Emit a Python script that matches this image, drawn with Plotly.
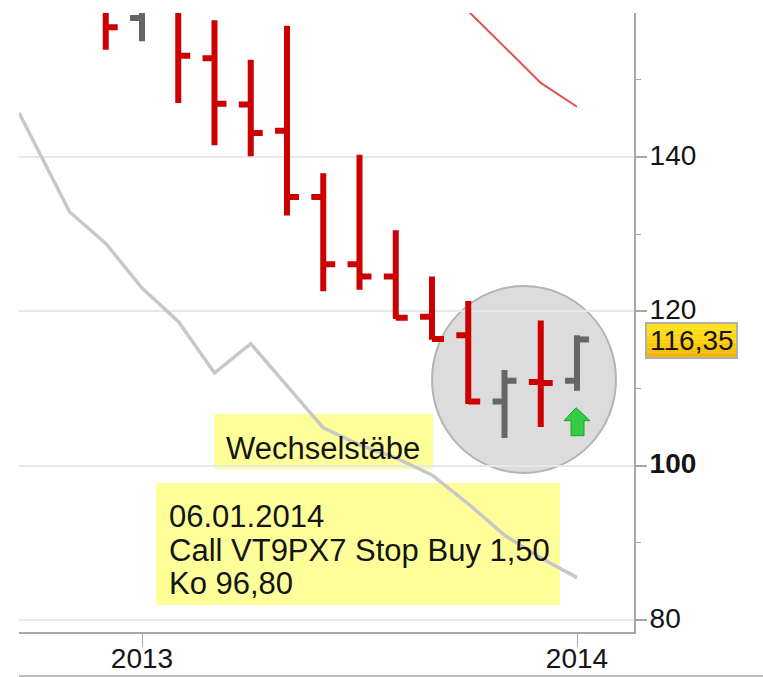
import plotly.graph_objects as go

# Months counted from January 2013
bar_months = [-1, 0, 1, 2, 3, 4, 5, 6, 7, 8, 9, 10, 11, 12]
opens  = [165.0, 158.0, 162.0, 152.8, 146.8, 143.4, 134.8, 126.1, 124.5, 119.3, 116.9, 108.3, 110.85, 111.0]
highs  = [168.0, 165.0, 165.0, 157.7, 152.6, 157.0, 137.9, 140.3, 130.5, 124.5, 121.35, 112.4, 118.8, 116.9]
lows   = [153.9, 155.0, 147.0, 141.5, 140.1, 132.4, 122.6, 122.8, 119.0, 116.3, 108.0, 103.6, 105.0, 109.7]
closes = [156.8, 161.0, 153.1, 146.9, 143.1, 134.8, 126.1, 124.5, 119.15, 116.4, 108.3, 111.0, 110.7, 116.35]

gray_months = [-3.39, -2.0, -1.0, 0, 1, 2, 3, 4, 5, 6, 7, 8, 9, 10, 11, 12]
gray_values = [145.7, 132.9, 128.8, 123.0, 118.7, 112.0, 115.8, 110.4, 104.9, 102.7, 101.0, 98.8, 95.05, 91.0, 88.05, 85.5]

red_months = [9, 10, 11, 12]
red_values = [158.9, 154.25, 149.6, 146.5]

y_ticks = [80, 100, 120, 140]
y_labels = ["80", "<b>100</b>", "120", "140"]
x_ticks = [0, 12]
x_labels = ["2013", "2014"]
last_price = "116,35"
note_1 = "Wechselstäbe"
note_2 = ["06.01.2014", "Call VT9PX7 Stop Buy 1,50", "Ko 96,80"]

W, H = 763, 677
L, R, T, B = 19, 634, 13, 632
px = lambda x: (x - L) / (R - L)
py = lambda y: 1 - (y - T) / (B - T)
FONT = "Liberation Sans"

fig = go.Figure()
fig.add_trace(go.Scatter(x=gray_months, y=gray_values, mode="lines", line=dict(color="#c8c8c8", width=3.5), hoverinfo="skip"))
fig.add_trace(go.Scatter(x=red_months, y=red_values, mode="lines", line=dict(color="#e05050", width=2), hoverinfo="skip"))
fig.add_trace(go.Ohlc(x=bar_months, open=opens, high=highs, low=lows, close=closes, tickwidth=0.33,
                      increasing=dict(line=dict(color="#666666", width=6)),
                      decreasing=dict(line=dict(color="#cc0000", width=6))))

def rect(x0, y0, x1, y1, fill, line=None, kind="rect", layer="below", w=1):
    fig.add_shape(type=kind, xref="paper", yref="paper", x0=px(x0), x1=px(x1), y0=py(y0), y1=py(y1),
                  fillcolor=fill, line=dict(color=line, width=w) if line else dict(width=0), layer=layer)

rect(214, 414, 433, 469, "#ffff99")
rect(156, 483, 560, 605, "#ffff99")
rect(432, 286, 616, 473, "#dcdcdc", "#b4b4b4", kind="circle", w=2)

# arrow
fig.add_shape(type="path", xref="x", yref="y", xsizemode="pixel", ysizemode="pixel", xanchor=12, yanchor=105.7,
              path="M -1 14 L -13 1 L -6 1 L -6 -14 L 7 -14 L 7 1 L 13 1 Z",
              fillcolor="#33cc44", line=dict(color="#22a033", width=1), layer="above")

# price label
stops = ["#ffe11a", "#ffdc14", "#ffd60f", "#ffcf0a", "#fcc705", "#f8be00", "#f4b400"]
top, bottom = 324, 357
for i, c in enumerate(stops):
    rect(647, top + (bottom - top) * i / len(stops), 736, top + (bottom - top) * (i + 1) / len(stops), c, layer="above")
rect(646, 323, 737, 358, "rgba(0,0,0,0)", "#b0b0b0", layer="above", w=2)

# outer bottom rule
rect(19, 675, 763, 677, "#bdbdbd", layer="above")

def text(x, y, s, size=31):
    fig.add_annotation(xref="paper", yref="paper", x=px(x), y=py(y), text=s, showarrow=False, xanchor="left", yanchor="middle",
                       align="left", xshift=-1, font=dict(family=FONT, size=size, color="#141414"))

text(225, 448, note_1)
for yy, s in zip([516, 550, 583], note_2):
    text(168, yy, s)
text(649, 340, last_price, 28)

fig.update_xaxes(range=[-3.393, 13.572], tickmode="array", tickvals=x_ticks, ticktext=x_labels, ticks="outside", ticklen=13, tickwidth=1,
                 tickcolor="#a8a8a8", showgrid=False, showline=True, linecolor="#a8a8a8", linewidth=2, automargin=False,
                 ticklabelstandoff=-13,
                 tickfont=dict(family=FONT, size=28, color="#141414"), rangeslider=dict(visible=False), zeroline=False)
fig.update_yaxes(side="right", range=[78.45, 158.65], tickmode="array", tickvals=y_ticks, ticktext=y_labels, ticks="outside", ticklen=11, tickwidth=2,
                 tickcolor="#a8a8a8", showgrid=True, gridcolor="#e8e8e8", gridwidth=2, showline=True, linecolor="#a8a8a8", linewidth=2, automargin=False,
                 ticklabelstandoff=-3, ticklabelshift=-2,
                 minor=dict(tickvals=[90, 110, 130, 150], ticks="outside", ticklen=5, tickcolor="#a8a8a8", tickwidth=1, showgrid=False),
                 tickfont=dict(family=FONT, size=28, color="#141414"), zeroline=False)
fig.update_layout(width=W, height=H, autosize=False, showlegend=False, paper_bgcolor="white", plot_bgcolor="white",
                  margin=dict(l=L, r=W - R, t=T, b=H - B))
fig.write_html("out.html", config=dict(displayModeBar=False), post_script="document.body.style.margin='0';document.body.style.overflow='hidden';")
